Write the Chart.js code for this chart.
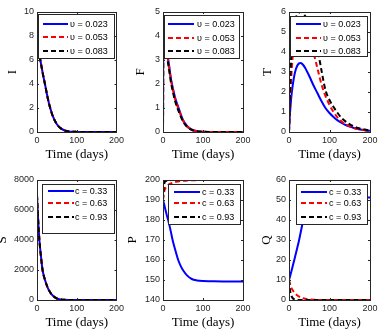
<!DOCTYPE html>
<html><head><meta charset="utf-8">
<script src="https://cdn.jsdelivr.net/npm/chart.js@4/dist/chart.umd.min.js"></script>
<style>
html,body{margin:0;padding:0;background:#fff;}
#wrap{position:relative;width:381px;height:329px;overflow:hidden;background:#fff;}
.cell{position:absolute;}
canvas{display:block;}
</style></head><body>
<div id="wrap">
 <div class="cell" style="left:0;top:0"><canvas id="c1" width="127" height="165"></canvas></div>
 <div class="cell" style="left:127px;top:0"><canvas id="c2" width="127" height="165"></canvas></div>
 <div class="cell" style="left:254px;top:0"><canvas id="c3" width="127" height="165"></canvas></div>
 <div class="cell" style="left:0;top:165px"><canvas id="c4" width="127" height="164"></canvas></div>
 <div class="cell" style="left:127px;top:165px"><canvas id="c5" width="127" height="164"></canvas></div>
 <div class="cell" style="left:254px;top:165px"><canvas id="c6" width="127" height="164"></canvas></div>
</div>
<script>
// ---------- data ----------
const upsLabels = ['υ = 0.023', 'υ = 0.053', 'υ = 0.083'];
const cLabels = ['c = 0.33', 'c = 0.63', 'c = 0.93'];

const timeI = [0,5,10,15,20,25,30,35,40,50,60,70,80,90,100,120,150,200];
const I_u023 = [7.6,6.6,5.7,4.8,4.0,3.15,2.4,1.8,1.3,0.65,0.3,0.12,0.05,0.02,0.01,0,0,0];
const I_u053 = [7.6,6.6,5.7,4.8,4.0,3.15,2.4,1.8,1.3,0.65,0.3,0.12,0.05,0.02,0.01,0,0,0];
const I_u083 = [7.6,6.6,5.7,4.8,4.0,3.15,2.4,1.8,1.3,0.65,0.3,0.12,0.05,0.02,0.01,0,0,0];

const timeF = [0,1,3,5,10,15,20,25,30,40,50,60,70,80,90,100,120,150,200];
const F_u023 = [0,4.4,4.2,3.9,3.35,2.8,2.2,1.8,1.45,0.95,0.5,0.25,0.12,0.05,0.02,0.01,0,0,0];
const F_u053 = [0,4.4,4.15,3.85,3.3,2.75,2.15,1.75,1.4,0.9,0.48,0.24,0.11,0.05,0.02,0.01,0,0,0];
const F_u083 = [0,4.3,4.0,3.7,3.15,2.6,2.05,1.65,1.3,0.82,0.44,0.22,0.1,0.04,0.02,0.01,0,0,0];

const timeT = [0,2,4,6,8,10,12,15,20,25,28,30,35,40,50,60,70,80,90,100,110,120,130,140,150,160,170,180,190,200];
const T_u023 = [0,0.8,1.35,1.8,2.15,2.45,2.7,3.0,3.3,3.43,3.45,3.44,3.35,3.2,2.8,2.35,1.95,1.55,1.2,0.95,0.75,0.58,0.45,0.35,0.27,0.2,0.15,0.11,0.08,0.06];
const T_u053 = [0,1.0,2.0,2.9,3.5,3.95,4.3,4.65,5.0,5.15,5.2,5.2,5.1,4.95,4.55,4.0,3.2,2.4,1.8,1.35,1.0,0.72,0.52,0.38,0.28,0.2,0.15,0.11,0.08,0.06];
const T_u083 = [0,1.5,3.0,4.0,4.6,5.0,5.3,5.6,5.85,5.97,6.03,6.02,5.92,5.8,5.4,4.9,4.2,3.1,2.1,1.6,1.25,0.95,0.7,0.52,0.38,0.28,0.2,0.15,0.11,0.08];

const timeS = [0,2,4,6,8,10,14,20,25,30,40,50,60,70,80,100,150,200];
const S_c033 = [7000,5800,4800,4000,3400,2900,2000,1350,950,650,280,100,35,10,3,0,0,0];
const S_c063 = [7000,5800,4800,4000,3400,2900,2000,1350,950,650,280,100,35,10,3,0,0,0];
const S_c093 = [7000,5800,4800,4000,3400,2900,2000,1350,950,650,280,100,35,10,3,0,0,0];

const timeP = [0,1,2,3,5,8,10,13,15,20,24,30,38,45,51,60,72,85,100,120,150,200];
const P_c033 = [190,189.2,188.5,187.7,186,183.6,182,180,178.3,173.8,170,165.5,160,156.7,154.6,152.3,150.5,149.8,149.5,149.4,149.3,149.3];
const P_c063 = [190,191.8,193,194,195.5,196.5,197,197.5,197.8,198.3,198.6,199,199.3,199.5,199.6,199.7,199.85,199.9,200,200,200,200];
const P_c093 = [190,194,196.5,198,199.2,199.6,199.75,199.85,199.9,199.95,200,200,200,200,200,200,200,200,200,200,200,200];

const timeQ = [0,1,2,4,5,6,8,10,13,15,20,25,30,35,40,45,50,55,60,70,80,100,150,200];
const Q_c033 = [10,10.7,11.4,12.9,13.7,14.4,16,17.6,20,21.6,25.8,30,35,39.8,43.5,46.2,48.2,49.5,50.3,50.9,51.1,51.2,51.2,51.2];
const Q_c063 = [10,9.1,8.3,7.1,6.6,6.1,5.3,4.6,3.8,3.3,2.4,1.7,1.2,0.85,0.6,0.42,0.3,0.21,0.15,0.07,0.03,0.01,0,0];
const Q_c093 = [10,7.5,5.6,3.4,2.7,2.1,1.3,0.8,0.42,0.27,0.1,0.04,0.02,0.01,0,0,0,0,0,0,0,0,0,0];

const xTicks = [0, 100, 200];

// ---------- styling ----------
const SANS = '"Liberation Sans", Arial, Helvetica, sans-serif';
const SERIF = '"Liberation Serif", "Times New Roman", serif';
const AX = '#262626';
const COLORS = ['#0000ff', '#ff0000', '#000000'];
const DASHES = [[], [5, 3], [5, 3]];

function series(labels, xs, ys) {
  return ys.map((vals, i) => ({
    label: labels[i],
    data: vals.map((v, k) => ({x: xs[k], y: v})),
    borderColor: COLORS[i],
    backgroundColor: COLORS[i],
    borderWidth: 2,
    borderDash: DASHES[i],
    pointRadius: 0,
    fill: false,
    cubicInterpolationMode: 'monotone',
    order: 2 - i
  }));
}

const framePlugin = {
  id: 'frameTicks',
  afterDatasetsDraw(chart) {
    const {ctx, chartArea: a, scales} = chart;
    ctx.save();
    ctx.strokeStyle = AX;
    ctx.lineWidth = 1;
    ctx.setLineDash([]);
    ctx.beginPath();
    const tl = 2;
    scales.x.ticks.forEach(t => {
      const px = Math.round(scales.x.getPixelForValue(t.value)) + 0.5;
      ctx.moveTo(px, a.bottom); ctx.lineTo(px, a.bottom - tl);
      ctx.moveTo(px, a.top); ctx.lineTo(px, a.top + tl);
    });
    scales.y.ticks.forEach(t => {
      const py = Math.round(scales.y.getPixelForValue(t.value)) + 0.5;
      ctx.moveTo(a.left, py); ctx.lineTo(a.left + tl, py);
      ctx.moveTo(a.right, py); ctx.lineTo(a.right - tl, py);
    });
    ctx.stroke();
    ctx.strokeRect(Math.round(a.left) + 0.5, Math.round(a.top) + 0.5,
                   Math.round(a.right - a.left), Math.round(a.bottom - a.top));
    ctx.restore();
  }
};

const legendPlugin = {
  id: 'boxLegend',
  afterDatasetsDraw(chart, args, o) {
    const {ctx, chartArea: a} = chart;
    const L = a.left, T = a.top;
    ctx.save();
    ctx.fillStyle = '#ffffff';
    ctx.fillRect(L + o.x0, T + o.y0, o.w, o.h);
    ctx.strokeStyle = AX;
    ctx.lineWidth = 1;
    ctx.setLineDash([]);
    ctx.strokeRect(Math.round(L + o.x0) + 0.5, Math.round(T + o.y0) + 0.5, o.w, o.h);
    chart.data.datasets.forEach((d, i) => {
      const y = T + o.rows[i];
      ctx.strokeStyle = d.borderColor;
      ctx.lineWidth = 2;
      ctx.setLineDash(d.borderDash);
      ctx.beginPath();
      ctx.moveTo(L + o.lx0, y); ctx.lineTo(L + o.lx1, y);
      ctx.stroke();
      ctx.setLineDash([]);
      ctx.fillStyle = '#000';
      ctx.font = '9px ' + SANS;
      ctx.textBaseline = 'middle';
      ctx.textAlign = 'left';
      ctx.fillText(d.label, L + o.tx, y + 0.5);
    });
    ctx.restore();
  }
};

function makeChart(id, cfg) {
  const cellW = 127, cellH = cfg.cellH;
  const xH = 28;
  Chart.defaults.devicePixelRatio = 1;
  new Chart(document.getElementById(id), {
    type: 'line',
    data: {datasets: cfg.datasets},
    plugins: [framePlugin, legendPlugin],
    options: {
      responsive: false,
      animation: false,
      devicePixelRatio: 1,
      layout: {padding: {left: 0, top: cfg.T, right: cellW - cfg.R, bottom: cellH - cfg.B - xH}},
      plugins: {
        legend: {display: false},
        tooltip: {enabled: false},
        boxLegend: cfg.legend
      },
      scales: {
        x: {
          type: 'linear', min: 0, max: 200,
          afterFit: s => { s.height = xH; },
          afterBuildTicks: s => { s.ticks = xTicks.map(v => ({value: v})); },
          grid: {display: false, drawTicks: false},
          border: {display: false},
          ticks: {font: {family: SANS, size: 9}, color: AX, padding: 3, maxRotation: 0, autoSkip: false,
                  callback: v => String(v)},
          title: {display: true, text: 'Time (days)', color: '#000',
                  font: {family: SERIF, size: 13, lineHeight: 1}, padding: {top: 0, bottom: -1.5}}
        },
        y: {
          type: 'linear', min: cfg.ymin, max: cfg.ymax,
          afterFit: s => { s.width = cfg.L; },
          afterBuildTicks: s => { s.ticks = cfg.yTicks.map(v => ({value: v})); },
          grid: {display: false, drawTicks: false},
          border: {display: false},
          ticks: {font: {family: SANS, size: 9}, color: AX, padding: 3, autoSkip: false,
                  callback: v => String(v)},
          title: {display: true, text: cfg.ytitle, color: '#000',
                  font: {family: SERIF, size: 13, lineHeight: 1}, padding: {top: cfg.titlePad, bottom: 0}}
        }
      }
    }
  });
}

const yTicksI = [0,2,4,6,8,10];
const yTicksF = [0,1,2,3,4,5];
const yTicksT = [0,1,2,3,4,5,6];
const yTicksS = [0,2000,4000,6000,8000];
const yTicksP = [140,150,160,170,180,190,200];
const yTicksQ = [0,10,20,30,40,50,60];

makeChart('c1', {cellH: 165, L: 37, R: 117, T: 12, B: 132, ymin: 0, ymax: 10, yTicks: yTicksI, ytitle: 'I', titlePad: 6.5,
  datasets: series(upsLabels, timeI, [I_u023, I_u053, I_u083]),
  legend: {x0: 1, y0: 2, w: 76, h: 44, rows: [12, 25, 39], lx0: 6, lx1: 31, tx: 33}});
makeChart('c2', {cellH: 165, L: 36, R: 116, T: 12, B: 132, ymin: 0, ymax: 5, yTicks: yTicksF, ytitle: 'F', titlePad: 7.5,
  datasets: series(upsLabels, timeF, [F_u023, F_u053, F_u083]),
  legend: {x0: 1, y0: 3, w: 75, h: 43, rows: [12, 26, 39], lx0: 5, lx1: 31, tx: 34}});
makeChart('c3', {cellH: 165, L: 35, R: 116, T: 12, B: 132, ymin: 0, ymax: 6, yTicks: yTicksT, ytitle: 'T', titlePad: 7.5,
  datasets: series(upsLabels, timeT, [T_u023, T_u053, T_u083]),
  legend: {x0: 1, y0: 4, w: 77, h: 40, rows: [12, 26, 39], lx0: 7, lx1: 32, tx: 34}});
makeChart('c4', {cellH: 164, L: 37, R: 117, T: 15, B: 135, ymin: 0, ymax: 8000, yTicks: yTicksS, ytitle: 'S', titlePad: -3.5,
  datasets: series(cLabels, timeS, [S_c033, S_c063, S_c093]),
  legend: {x0: 5, y0: 4, w: 72, h: 49, rows: [11, 23, 37], lx0: 11, lx1: 37, tx: 38}});
makeChart('c5', {cellH: 164, L: 36, R: 116, T: 15, B: 135, ymin: 140, ymax: 200, yTicks: yTicksP, ytitle: 'P', titlePad: -0.8,
  datasets: series(cLabels, timeP, [P_c033, P_c063, P_c093]),
  legend: {x0: 5, y0: 4, w: 72, h: 40, rows: [12, 23, 37], lx0: 11, lx1: 37, tx: 39}});
makeChart('c6', {cellH: 164, L: 35, R: 116, T: 15, B: 135, ymin: 0, ymax: 60, yTicks: yTicksQ, ytitle: 'Q', titlePad: 6.2,
  datasets: series(cLabels, timeQ, [Q_c033, Q_c063, Q_c093]),
  legend: {x0: 7, y0: 4, w: 71, h: 40, rows: [12, 23, 37], lx0: 12, lx1: 38, tx: 40}});
</script>
</body></html>
